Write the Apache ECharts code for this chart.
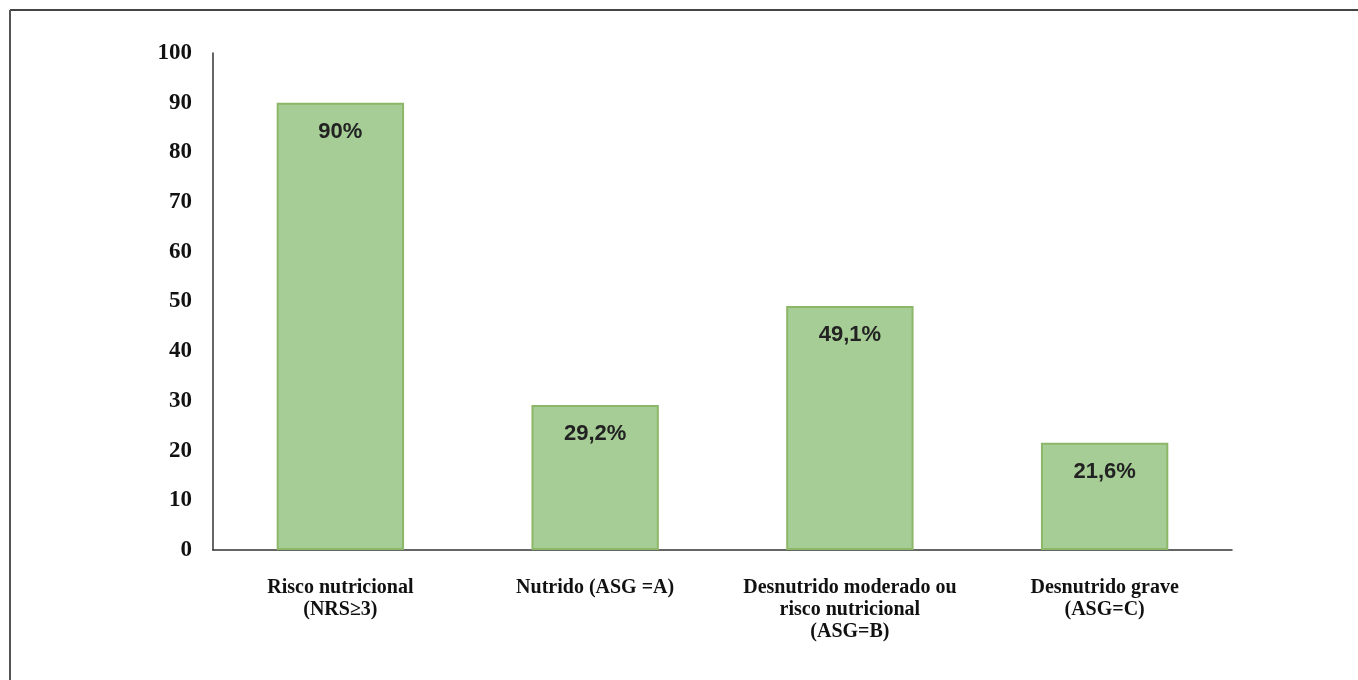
<!DOCTYPE html>
<html>
<head>
    <meta charset="UTF-8">
    <title>Risco nutricional</title>
    <script type="text/javascript" src="https://cdn.jsdelivr.net/npm/echarts@6/dist/echarts.min.js"></script>
    <style type="text/css">
        html, body { margin: 0; padding: 0; background: #fff; }
        #chart { width: 1358px; height: 680px; }
    </style>
</head>
<body>
<div id="chart"></div>
<script type="text/javascript">
    // categorias e valores (%)
    var categories = [
        'Risco nutricional\n(NRS≥3)',
        'Nutrido (ASG =A)',
        'Desnutrido moderado ou\nrisco nutricional\n(ASG=B)',
        'Desnutrido grave\n(ASG=C)'
    ];
    var values = [90, 29.2, 49.1, 21.6];
    var valueLabels = ['90%', '29,2%', '49,1%', '21,6%'];

    var chart = echarts.init(document.getElementById('chart'));
    chart.setOption({
        animation: false,
        grid: {left: 213, right: 126, top: 53, bottom: 130},
        graphic: [
            // moldura (só esquerda e topo aparecem)
            {type: 'line', shape: {x1: 10, y1: 10, x2: 1358, y2: 10}, style: {stroke: '#444', lineWidth: 2}},
            {type: 'line', shape: {x1: 10, y1: 10, x2: 10, y2: 680}, style: {stroke: '#555', lineWidth: 2}}
        ],
        xAxis: {
            type: 'category',
            data: categories,
            axisLine: {lineStyle: {color: '#333', width: 1.5}},
            axisTick: {show: false},
            axisLabel: {
                color: '#111',
                fontFamily: 'Liberation Serif',
                fontWeight: 'bold',
                fontSize: 20,
                lineHeight: 22,
                margin: 27,
                interval: 0
            }
        },
        yAxis: {
            type: 'value',
            min: 0,
            max: 100,
            interval: 10,
            splitLine: {show: false},
            axisLine: {show: true, lineStyle: {color: '#333', width: 1.5}},
            axisTick: {show: false},
            axisLabel: {
                color: '#111',
                fontFamily: 'Liberation Serif',
                fontWeight: 'bold',
                fontSize: 23,
                margin: 21
            }
        },
        series: [{
            type: 'bar',
            barWidth: '50%',
            data: values,
            itemStyle: {color: '#a6cd96', borderColor: '#8cb768', borderWidth: 2},
            label: {
                show: true,
                position: 'insideTop',
                distance: 18,
                color: '#222',
                fontFamily: 'Liberation Sans',
                fontWeight: 'bold',
                fontSize: 22,
                formatter: function (p) { return valueLabels[p.dataIndex]; }
            }
        }]
    });
</script>
</body>
</html>
